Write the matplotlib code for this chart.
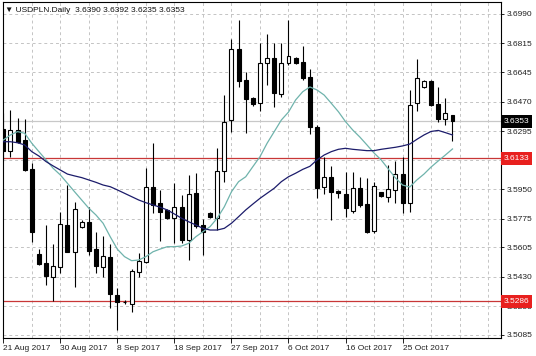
import matplotlib
matplotlib.use("Agg")
import matplotlib.pyplot as plt
import matplotlib.transforms as mtransforms
from matplotlib.ticker import FixedLocator, MultipleLocator
import pandas as pd

# daily USDPLN bars (broker feed has short Sunday bars)
opens = [3.6306, 3.6179, 3.6302, 3.6242, 3.6068, 3.5566, 3.5514, 3.5431,
         3.5490, 3.5738, 3.5579, 3.5728, 3.5757, 3.5594, 3.5490, 3.5550,
         3.5320, 3.5282, 3.5267, 3.5461, 3.5520, 3.5965, 3.5867, 3.5827,
         3.5777, 3.5846, 3.5649, 3.5926, 3.5738, 3.5811, 3.5777, 3.6060,
         3.6361, 3.6780, 3.6598, 3.6490, 3.6460, 3.6697, 3.6727, 3.6515,
         3.6697, 3.6727, 3.6707, 3.6618, 3.6317, 3.5965, 3.6024, 3.5940,
         3.5922, 3.5823, 3.5955, 3.5862, 3.5704, 3.5932, 3.5906, 3.5946,
         3.6039, 3.5867, 3.6460, 3.6555, 3.6592, 3.6454, 3.6365, 3.6390]
highs = [3.6400, 3.6420, 3.6373, 3.6365, 3.6104, 3.5594, 3.5738, 3.5623,
         3.5817, 3.5975, 3.5876, 3.5770, 3.5846, 3.5698, 3.5674, 3.5625,
         3.5364, 3.5293, 3.5475, 3.5570, 3.6074, 3.6223, 3.5946, 3.5832,
         3.5985, 3.5916, 3.6034, 3.6048, 3.5772, 3.5815, 3.6193, 3.6509,
         3.6840, 3.6954, 3.6648, 3.6500, 3.6820, 3.6870, 3.6816, 3.6816,
         3.6954, 3.6735, 3.6800, 3.6662, 3.6331, 3.6143, 3.6088, 3.5945,
         3.6054, 3.6054, 3.6021, 3.6015, 3.5995, 3.5935, 3.6094, 3.6119,
         3.6139, 3.6539, 3.6721, 3.6597, 3.6597, 3.6555, 3.6490, 3.6392]
lows = [3.6120, 3.6143, 3.6224, 3.6058, 3.5639, 3.5500, 3.5382, 3.5287,
        3.5451, 3.5575, 3.5372, 3.5720, 3.5560, 3.5455, 3.5431, 3.5243,
        3.5113, 3.5270, 3.5222, 3.5431, 3.5510, 3.5807, 3.5640, 3.5772,
        3.5629, 3.5629, 3.5530, 3.5720, 3.5560, 3.5780, 3.5710, 3.5995,
        3.6292, 3.6559, 3.6286, 3.6445, 3.6416, 3.6569, 3.6440, 3.6496,
        3.6687, 3.6695, 3.6600, 3.6278, 3.5900, 3.5922, 3.5767, 3.5900,
        3.5787, 3.5811, 3.5845, 3.5688, 3.5690, 3.5905, 3.5876, 3.5870,
        3.5807, 3.5817, 3.6416, 3.6550, 3.6445, 3.6351, 3.6331, 3.6235]
closes = [3.6179, 3.6302, 3.6232, 3.6064, 3.5698, 3.5506, 3.5435, 3.5494,
          3.5742, 3.5579, 3.5831, 3.5757, 3.5585, 3.5494, 3.5556, 3.5328,
          3.5278, 3.5280, 3.5465, 3.5526, 3.5965, 3.5857, 3.5817, 3.5777,
          3.5843, 3.5649, 3.5922, 3.5732, 3.5698, 3.5787, 3.6060, 3.6351,
          3.6780, 3.6594, 3.6484, 3.6456, 3.6697, 3.6727, 3.6519, 3.6701,
          3.6743, 3.6701, 3.6608, 3.6321, 3.5955, 3.6024, 3.5935, 3.5930,
          3.5837, 3.5955, 3.5857, 3.5698, 3.5971, 3.5912, 3.5950, 3.6039,
          3.5867, 3.6450, 3.6608, 3.6592, 3.6450, 3.6365, 3.6401, 3.6353]

# moving averages as shown on the chart
ma_fast = [3.6242, 3.6272, 3.6292, 3.6282, 3.6223, 3.6173, 3.6124, 3.6074,
           3.6035, 3.5985, 3.5935, 3.5886, 3.5837, 3.5797, 3.5748, 3.5668,
           3.5594, 3.5550, 3.5526, 3.5530, 3.5550, 3.5579, 3.5595, 3.5609,
           3.5609, 3.5613, 3.5629, 3.5668, 3.5698, 3.5728, 3.5778, 3.5846,
           3.5935, 3.5995, 3.6024, 3.6084, 3.6143, 3.6223, 3.6292, 3.6361,
           3.6408, 3.6480, 3.6529, 3.6557, 3.6539, 3.6509, 3.6460, 3.6410,
           3.6351, 3.6302, 3.6260, 3.6213, 3.6165, 3.6124, 3.6070, 3.6017,
           3.5975, 3.5963, 3.6005, 3.6040, 3.6082, 3.6118, 3.6153, 3.6189]
ma_slow = [3.6232, 3.6232, 3.6226, 3.6213, 3.6173, 3.6147, 3.6114, 3.6088,
           3.6064, 3.6040, 3.6029, 3.6019, 3.6005, 3.5991, 3.5975, 3.5965,
           3.5946, 3.5926, 3.5906, 3.5886, 3.5870, 3.5857, 3.5843, 3.5827,
           3.5803, 3.5778, 3.5757, 3.5738, 3.5718, 3.5708, 3.5708, 3.5718,
           3.5748, 3.5787, 3.5827, 3.5862, 3.5896, 3.5926, 3.5956, 3.5995,
           3.6024, 3.6045, 3.6068, 3.6086, 3.6124, 3.6153, 3.6173, 3.6187,
           3.6193, 3.6187, 3.6183, 3.6179, 3.6179, 3.6187, 3.6193, 3.6199,
           3.6207, 3.6218, 3.6246, 3.6272, 3.6293, 3.6299, 3.6286, 3.6272]

levels = [3.6133, 3.5286]
last_price = 3.6353
title = "USDPLN.Daily  3.6390 3.6392 3.6235 3.6353"

# 3.6125 sits under the red level box, so its label stays empty
y_ticks = [3.6990, 3.6815, 3.6645, 3.6470, 3.6295, 3.6125,
           3.5950, 3.5775, 3.5605, 3.5430, 3.5255, 3.5085]
y_labels = ["3.6990", "3.6815", "3.6645", "3.6470", "3.6295", "",
            "3.5950", "3.5775", "3.5605", "3.5430", "3.5255", "3.5085"]

dates = pd.bdate_range("2017-08-21", periods=len(closes), freq="C",
                       weekmask="Sun Mon Tue Wed Thu Fri")

plt.rcParams['font.family'] = ['Liberation Sans', 'DejaVu Sans']
fs = 6

fig = plt.figure(figsize=(5.36, 3.56), dpi=100)
ax = fig.add_axes([2.5 / 536, 18.3 / 356, 498.2 / 536, 335.7 / 356])

x = list(range(len(closes)))

# candles
for i in x:
    o, h, l, c = opens[i], highs[i], lows[i], closes[i]
    ax.vlines(i, l, h, color="black", lw=0.8, zorder=3)
    face = "white" if c >= o else "black"
    ax.bar(i, abs(c - o), bottom=min(o, c), width=0.55, color=face,
           edgecolor="black", lw=0.8, zorder=4)

ax.plot(x, ma_fast, color="#6fb3ac", lw=0.9, zorder=5)
ax.plot(x, ma_slow, color="#1c1c6b", lw=0.9, zorder=5)

ax.axhline(last_price, color="#c8c8c8", lw=0.9, zorder=1)
for lv in levels:
    ax.axhline(lv, color="#c83737", lw=0.9, zorder=2)

ax.set_xlim(-0.11, 69.76)
ax.set_ylim(3.50689, 3.70612)

# axes look
ax.yaxis.tick_right()
ax.yaxis.set_major_locator(FixedLocator(y_ticks))
ax.set_yticklabels(y_labels)
tick_idx = x[::8]
ax.set_xticks(tick_idx)
ax.set_xticklabels([f"{d.day} {d:%b %Y}" for d in dates[::8]], ha="left")
ax.xaxis.set_minor_locator(MultipleLocator(4))
ax.tick_params(axis="y", length=2.5, width=0.7, pad=1.8, labelsize=fs,
               colors="#222222")
ax.tick_params(axis="x", which="major", length=3.5, width=0.7, pad=1.8,
               labelsize=fs, colors="#222222")
ax.tick_params(axis="x", which="minor", length=0)
ax.grid(True, axis="y", color="#c4c4c4", ls=(0, (3, 3)), lw=0.7, zorder=0)
ax.grid(True, axis="x", which="both", color="#c4c4c4", ls=(0, (3, 3)),
        lw=0.7, zorder=0)
ax.set_axisbelow(True)
for sp in ax.spines.values():
    sp.set_linewidth(0.8)
    sp.set_color("black")

# price labels on the right scale
trans = mtransforms.blended_transform_factory(ax.transAxes, ax.transData)
box_kw = dict(boxstyle="square,pad=0.35", ec="none")
for lv in levels:
    ax.text(1.006, lv, f"{lv:.4f}", transform=trans, ha="left", va="center",
            fontsize=fs, color="white", clip_on=False, zorder=10,
            bbox=dict(fc="#e8201e", **box_kw))
ax.text(1.006, last_price, f"{last_price:.4f}", transform=trans, ha="left",
        va="center", fontsize=fs, color="white", clip_on=False, zorder=10,
        bbox=dict(fc="black", **box_kw))

fig.text(5 / 536, 1 - 10 / 356, "\u25bc " + title, fontsize=fs,
         va="center", ha="left", color="#111111",
         family=['Liberation Sans', 'DejaVu Sans'])

fig.savefig("out.png", dpi=100)
plt.close(fig)
